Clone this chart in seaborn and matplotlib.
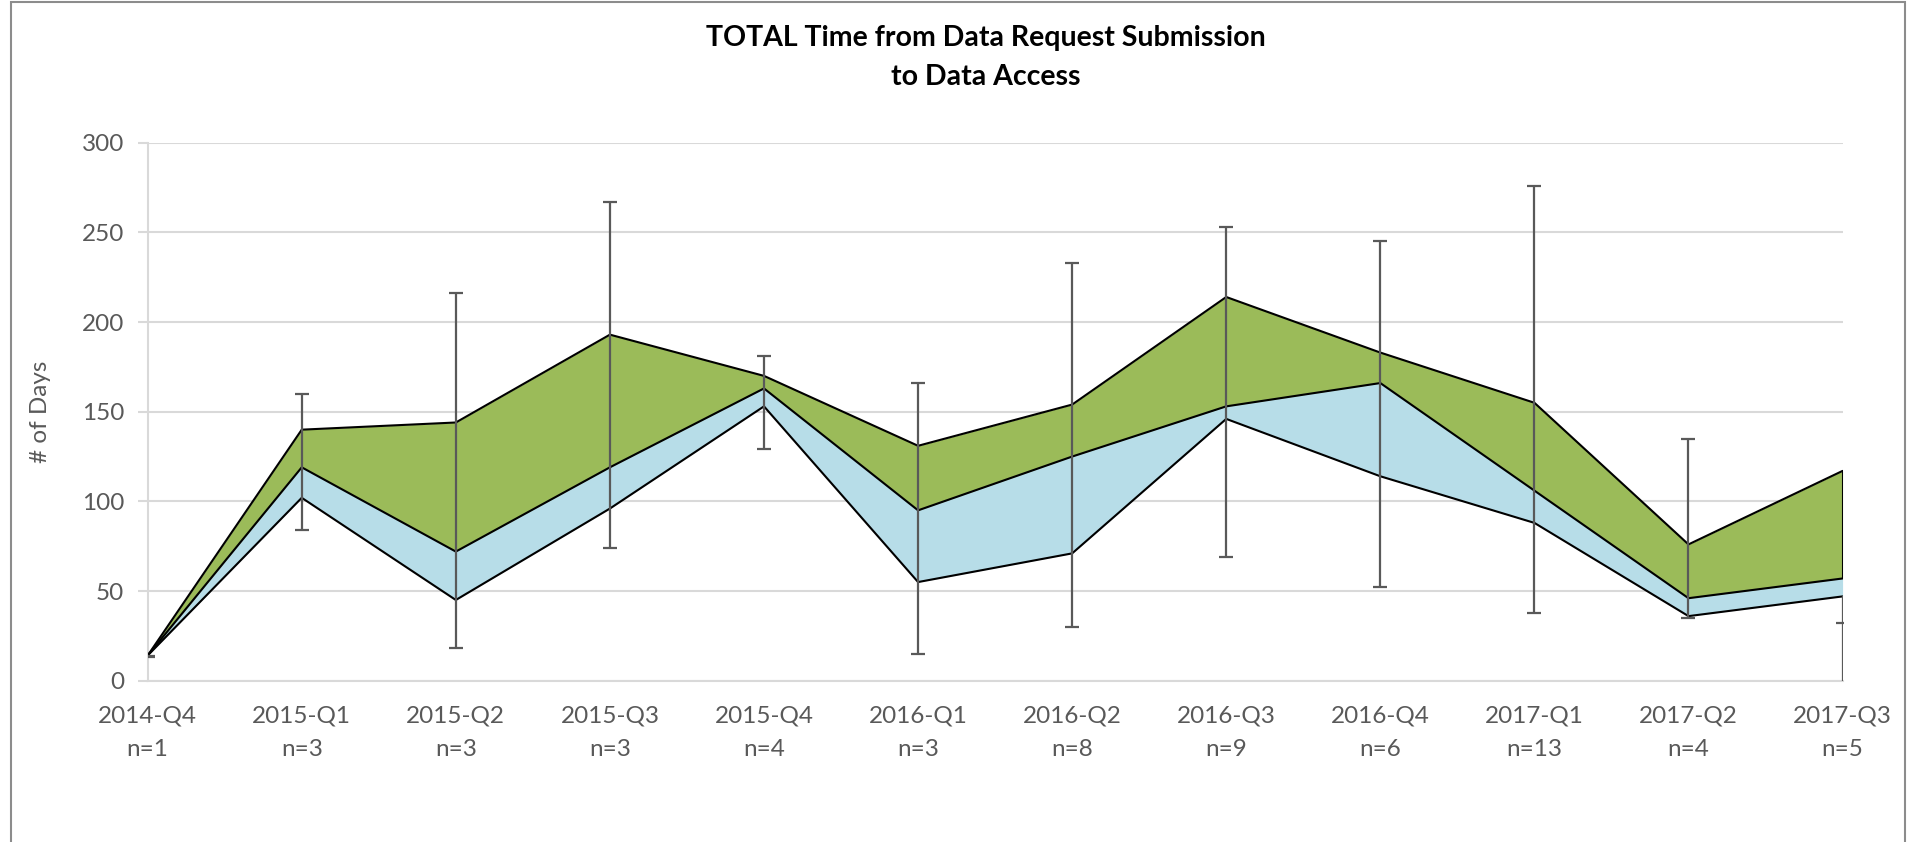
import numpy as np
import pandas as pd
import matplotlib
matplotlib.use("Agg")
import matplotlib.pyplot as plt
import seaborn as sns
from matplotlib.patches import Rectangle

# Data
quarters = ["2014-Q4", "2015-Q1", "2015-Q2", "2015-Q3", "2015-Q4", "2016-Q1",
            "2016-Q2", "2016-Q3", "2016-Q4", "2017-Q1", "2017-Q2", "2017-Q3"]
n_requests = [1, 3, 3, 3, 4, 3, 8, 9, 6, 13, 4, 5]
lower = [14, 102, 45, 96, 153, 55, 71, 146, 114, 88, 36, 47]
middle = [14, 119, 72, 119, 163, 95, 125, 153, 166, 106, 46, 57]
upper = [14, 140, 144, 193, 170, 131, 154, 214, 183, 155, 76, 117]
err_low = [13, 84, 18, 74, 129, 15, 30, 69, 52, 38, 35, -5]
err_high = [14, 160, 216, 267, 181, 166, 233, 253, 245, 276, 135, 32]

tick_labels = [f"{q}\nn={n}" for q, n in zip(quarters, n_requests)]

df = pd.DataFrame({"x": np.arange(len(quarters)), "lower": lower,
                   "middle": middle, "upper": upper,
                   "err_low": err_low, "err_high": err_high})

GREEN = "#9BBB59"
BLUE = "#B7DDE8"
GRID = "#D9D9D9"
TXT = "#595959"

sns.set_theme(style="white")
plt.rcParams["font.family"] = ["Lato", "DejaVu Sans"]

fig = plt.figure(figsize=(19.3, 8.42), dpi=100)
ax = fig.add_axes([0.0765, 0.1916, 0.9547 - 0.0765, 0.8304 - 0.1916])

# Filled bands
ax.fill_between(df["x"], df["lower"], df["middle"], color=BLUE, lw=0, zorder=1)
ax.fill_between(df["x"], df["middle"], df["upper"], color=GREEN, lw=0, zorder=1)

# Outline lines
for col in ["lower", "middle", "upper"]:
    sns.lineplot(data=df, x="x", y=col, color="black", linewidth=1.5, ax=ax, zorder=3)
# right edge of the band polygon
ax.vlines(df["x"].iloc[-1], df["middle"].iloc[-1], df["upper"].iloc[-1],
          color="black", lw=1.5, zorder=3)

# Range bars
ax.errorbar(df["x"], df["err_low"],
            yerr=[np.zeros(len(df)), df["err_high"] - df["err_low"]],
            fmt="none", ecolor=TXT, elinewidth=1.6, capsize=5, capthick=1.6, zorder=4)
# last bar continues up to the lower line in the reference
ax.vlines(df["x"].iloc[-1], df["err_high"].iloc[-1], df["lower"].iloc[-1],
          color=TXT, lw=1.6, zorder=4)

ax.set_xlim(0, len(quarters) - 1)
ax.set_ylim(0, 300)
ax.set_yticks(range(0, 301, 50))
ax.set_xticks(df["x"])
ax.set_xticklabels(tick_labels, linespacing=1.75)
ax.yaxis.grid(True, color=GRID, lw=1.5)
ax.set_axisbelow(True)

for s in ["top", "right"]:
    ax.spines[s].set_visible(False)
ax.spines["left"].set_color(GRID)
ax.spines["bottom"].set_color(GRID)
ax.spines["left"].set_linewidth(1.5)
ax.spines["bottom"].set_linewidth(1.5)

ax.tick_params(axis="y", left=True, length=7, width=1.5, color=GRID,
               labelsize=17.5, labelcolor=TXT, pad=10)
ax.tick_params(axis="x", bottom=False, labelsize=17.5, labelcolor=TXT, pad=12)

ax.set_xlabel("")
ax.set_ylabel("# of Days", fontsize=17.5, color=TXT, labelpad=22)

fig.text(0.511, 0.97, "TOTAL Time from Data Request Submission\nto Data Access",
         ha="center", va="top", fontsize=20.5, fontweight="bold", color="black",
         linespacing=1.6)

# Outer chart frame
fig.patches.append(Rectangle((0.0057, -0.05), 0.987 - 0.0057, 0.9976 + 0.05,
                             transform=fig.transFigure, fill=False,
                             edgecolor="#8C8C8C", lw=1.5))

fig.savefig("out.png", dpi=100)
plt.close(fig)
